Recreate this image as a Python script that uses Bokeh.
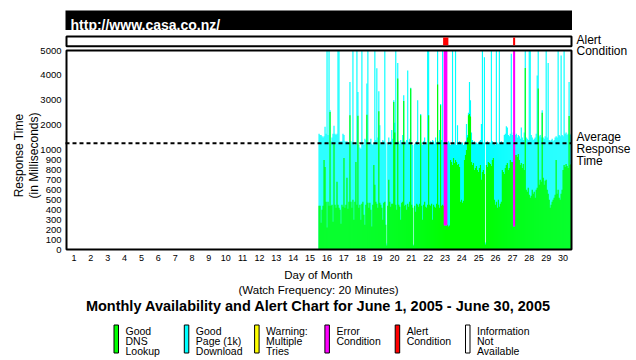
import math
from bokeh.plotting import figure
from bokeh.models import Range1d
from bokeh.core.properties import value
from bokeh.embed import file_html
from bokeh.resources import INLINE

# ---------------- data ----------------
site_name = "http://www.casa.co.nz/"
chart_title = "Monthly Availability and Alert Chart for June 1, 2005 - June 30, 2005"
days = list(range(1, 31))
first_data_day = 16
last_data_day = 30

# total response time (ms) per time slot, day 16 .. day 30
total_ms = [
    1650, 1600, 1600, 1550, 1500, 1550, 1930, 1650, 5000, 1600,
    5000, 2600, 1350, 1500, 1650, 1970, 1650, 1600, 1650, 5000,
    5000, 1350, 1330, 1350, 1650, 1600, 1350, 1330, 1350, 1300,
    1300, 3730, 1350, 1300, 5000, 1250, 1200, 1300, 5000, 3330,
    1200, 1100, 1050, 5000, 1300, 1200, 1450, 1400, 3670, 5000,
    1300, 1250, 1450, 1250, 1200, 1300, 5000, 1400, 4290, 1500,
    3360, 2000, 1300, 1250, 1400, 1350, 5000, 1300, 60, 1250,
    1500, 1200, 1350, 1800, 1450, 3000, 2100, 5000, 1300, 4500,
    1350, 1250, 1400, 1300, 1600, 3200, 1350, 1250, 1400, 4200,
    1300, 1450, 3500, 1300, 1200, 50, 1250, 1300, 1350, 3000,
    1200, 1250, 2450, 1300, 1200, 1350, 1500, 1300, 1250, 5000,
    5000, 1300, 1350, 1300, 1400, 1350, 1250, 1500, 1300, 5000,
    1350, 1800, 2850, 1400, 5000, 1300, 1300, 1300, 1300, 1250,
    1350, 1300, 1200, 1250, 5000, 1300, 1250, 5000, 1200, 2000,
    1300, 1350, 1300, 1250, 1300, 1200, 1250, 1350, 2050, 1600,
    2500, 3730, 3000, 1700, 1400, 1300, 1350, 1250, 1300, 1250,
    1300, 1350, 1400, 2050, 5000, 1300, 4730, 70, 1300, 1350,
    1250, 1300, 1300, 5000, 1350, 1300, 1250, 1200, 5000, 1300,
    1250, 5000, 1300, 1350, 1250, 1300, 1600, 1650, 1950, 1900,
    1600, 1550, 1650, 4870, 1600, 1700, 1700, 1600, 1650, 1500,
    1600, 1550, 1450, 1900, 1500, 1400, 1700, 5000, 1500, 1450,
    1400, 5000, 5000, 1600, 1500, 1400, 1450, 1500, 1650, 4000,
    5000, 1550, 1600, 1500, 2600, 1500, 1450, 1550, 5000, 1500,
    4500, 1400, 1350, 1400, 1450, 1350, 1400, 1500, 1550, 1500,
    5000, 1600, 1550, 4800, 1600, 1550, 5000, 1650, 1700, 1600,
    1650, 3730, 1600, 1650,
]
# DNS lookup time (ms) per time slot
dns_ms = [
    440, 440, 270, 400, 440, 900, 830, 480, 220, 480,
    440, 2530, 440, 450, 280, 1270, 450, 420, 680, 450,
    420, 400, 260, 450, 430, 920, 420, 450, 720, 410,
    480, 2400, 480, 420, 500, 300, 480, 880, 450, 2380,
    420, 450, 300, 460, 480, 350, 250, 450, 2420, 470,
    420, 470, 400, 230, 450, 850, 650, 480, 460, 420,
    2560, 470, 450, 420, 300, 470, 480, 250, 40, 440,
    700, 480, 430, 460, 460, 2930, 1700, 450, 400, 3870,
    450, 430, 300, 470, 480, 2970, 440, 450, 400, 460,
    430, 480, 3470, 450, 420, 40, 440, 380, 460, 450,
    430, 460, 2400, 440, 300, 450, 480, 430, 420, 450,
    2400, 450, 440, 460, 300, 450, 430, 420, 460, 3630,
    450, 420, 2800, 440, 450, 440, 240, 240, 240, 250,
    230, 240, 900, 880, 850, 920, 870, 900, 880, 850,
    860, 830, 480, 500, 470, 490, 900, 950, 1000, 1500,
    2400, 2450, 2350, 880, 850, 870, 800, 820, 840, 800,
    780, 820, 850, 700, 780, 800, 760, 50, 850, 830,
    880, 870, 860, 840, 900, 920, 500, 450, 480, 420,
    500, 430, 460, 480, 800, 780, 760, 820, 850, 870,
    800, 820, 900, 880, 880, 230, 230, 950, 950, 930,
    960, 900, 850, 870, 820, 860, 800, 4300, 600, 580,
    620, 550, 520, 540, 600, 560, 580, 520, 600, 620,
    3470, 650, 700, 680, 2500, 720, 650, 690, 700, 600,
    560, 500, 420, 450, 480, 500, 520, 550, 900, 560,
    600, 520, 500, 560, 600, 800, 850, 830, 860, 840,
    820, 2370, 850, 860,
]

# error conditions (magenta) and alert conditions (red)
error_day = [23, 27]
error_start_hour = [10.1, 12.9]
error_end_hour = [15.4, 15.8]
error_floor_ms = [240, 230]
alert_day = [23, 27]
alert_start_hour = [9.3, 12.9]
alert_end_hour = [16.8, 15.8]

average_ms = 1270

y_tick_ms = [0, 100, 200, 300, 400, 500, 600, 700, 800, 900, 1000, 2000, 3000, 4000, 5000]

legend_colors = ["#00FF00", "#00FFFF", "#FFFF00", "#FF00FF", "#FF0000", "#FFFFFF"]
legend_lines = [
    ["Good", "DNS", "Lookup"],
    ["Good", "Page (1k)", "Download"],
    ["Warning:", "Multiple", "Tries"],
    ["Error", "Condition", ""],
    ["Alert", "Condition", ""],
    ["Information", "Not", "Available"],
]

# ---------------- layout ----------------
FONT = "Liberation Sans"
W, H = 636, 360
PX_L, PX_R, PX_T, PX_B = 0, 636, 0, 360        # canvas in page pixels
BOX_L, BOX_R = 66, 571                          # plot box
BOX_T, BOX_B = 50, 249
DAY_L_PX, DAY_R_PX = 65, 571                    # day 0.5 .. 30.5

def to_axis(v):
    # piecewise scale: 0-1000 ms linear, 1000-5000 ms compressed 4x
    return v if v <= 1000 else 1000 + (v - 1000) / 4.0

ky = (BOX_B - BOX_T) / to_axis(5000)
kx = (DAY_R_PX - DAY_L_PX) / 30.0
x_range = Range1d(0.5 - (DAY_L_PX - PX_L) / kx, 30.5 + (PX_R - DAY_R_PX) / kx)
y_range = Range1d(-(PX_B - BOX_B) / ky, (BOX_B - PX_T) / ky)

p = figure(width=W, height=H, x_range=x_range, y_range=y_range,
           output_backend="svg", toolbar_location=None,
           x_axis_location=None, y_axis_location=None,
           min_border=0, min_border_left=0, min_border_right=0,
           min_border_top=0, min_border_bottom=0,
           outline_line_color=None, background_fill_color="white",
           border_fill_color="white")
p.extra_x_ranges = {"px": Range1d(PX_L, PX_R)}
p.extra_y_ranges = {"px": Range1d(PX_B, PX_T)}
p.grid.visible = False
PX = dict(x_range_name="px", y_range_name="px")

# title bar
p.quad(left=[65], right=[571.5], top=[10], bottom=[29.5], fill_color="black",
       line_color=None, **PX)
p.text(x=[70], y=[24.5], text=[site_name], text_color="white",
       text_font=value(FONT), text_font_style="bold", text_font_size="14px",
       text_align="left", text_baseline="alphabetic", **PX)

# alert box
p.quad(left=[BOX_L], right=[BOX_R], top=[36], bottom=[45.7], fill_color="white",
       line_color="black", line_width=2, **PX)
a_left = [DAY_L_PX + (d - 1 + h / 24.0) * kx for d, h in zip(alert_day, alert_start_hour)]
a_right = [DAY_L_PX + (d - 1 + h / 24.0) * kx for d, h in zip(alert_day, alert_end_hour)]
p.quad(left=a_left, right=a_right, top=[37] * len(a_left), bottom=[44.7] * len(a_left),
       fill_color="#FF0000", line_color=None, **PX)

# bars
n = len(total_ms)
w = (last_data_day - first_data_day + 1) / n
lefts = [first_data_day - 0.5 + i * w for i in range(n)]
rights = [l + w * 1.15 for l in lefts]
p.quad(left=lefts, right=rights, bottom=[0] * n, top=[to_axis(v) for v in total_ms],
       fill_color="#00FFFF", line_color=None)
p.quad(left=lefts, right=rights, bottom=[0] * n, top=[to_axis(v) for v in dns_ms],
       fill_color="#00FF00", line_color=None)

# error condition bars
e_left = [d - 0.5 + h / 24.0 for d, h in zip(error_day, error_start_hour)]
e_right = [d - 0.5 + h / 24.0 for d, h in zip(error_day, error_end_hour)]
p.quad(left=e_left, right=e_right, bottom=[to_axis(v) for v in error_floor_ms],
       top=[to_axis(5000)] * len(e_left), fill_color="#FF00FF", line_color=None)

# average line
p.segment(x0=[0.5], x1=[30.5], y0=[to_axis(average_ms)], y1=[to_axis(average_ms)],
          line_color="black", line_width=2, line_dash="4 3")

# plot box
p.quad(left=[BOX_L], right=[BOX_R], top=[BOX_T], bottom=[BOX_B], fill_color=None,
       line_color="black", line_width=2, **PX)

# y tick labels
p.text(x=[61] * len(y_tick_ms), y=[to_axis(v) for v in y_tick_ms],
       text=[str(v) for v in y_tick_ms], text_font=value(FONT), text_font_size="9.5px",
       text_align="right", text_baseline="middle", text_color="black",
       x_range_name="px")

# x tick labels
p.text(x=days, y=[257.5] * len(days), text=[str(d) for d in days],
       text_font=value(FONT), text_font_size="9px", text_align="center",
       text_baseline="middle", text_color="black", y_range_name="px")

# y axis title
p.text(x=[18, 33], y=[155, 155], text=["Response Time", "(in Milliseconds)"],
       angle=math.pi / 2, text_font=value(FONT), text_font_size="12px",
       text_align="center", text_baseline="middle", text_color="black", **PX)

# right side labels
p.text(x=[576] * 5, y=[39.5, 50, 136, 148, 160],
       text=["Alert", "Condition", "Average", "Response", "Time"],
       text_font=value(FONT), text_font_size="12px", text_align="left",
       text_baseline="alphabetic", text_color="black", **PX)

# bottom texts
p.text(x=[318, 318], y=[274, 289.5], text=["Day of Month", "(Watch Frequency: 20 Minutes)"],
       text_font=value(FONT), text_font_size="11.5px", text_align="center",
       text_baseline="middle", text_color="black", **PX)
p.text(x=[318], y=[305], text=[chart_title], text_font=value(FONT),
       text_font_style="bold", text_font_size="14.5px", text_align="center",
       text_baseline="middle", text_color="black", **PX)

# legend
leg_x0 = 113.5
leg_dx = 70.3
lx = [leg_x0 + i * leg_dx for i in range(len(legend_colors))]
p.quad(left=lx, right=[v + 4.5 for v in lx], top=[324.5] * len(lx), bottom=[352.5] * len(lx),
       fill_color=legend_colors, line_color="black", line_width=1, **PX)
tx, ty, tt = [], [], []
for i, lines in enumerate(legend_lines):
    for j, s in enumerate(lines):
        if s:
            tx.append(lx[i] + 11.5)
            ty.append(330.5 + 10 * j)
            tt.append(s)
p.text(x=tx, y=ty, text=tt, text_font=value(FONT), text_font_size="10.5px",
       text_align="left", text_baseline="alphabetic", text_color="black", **PX)

open("out.html", "w").write(file_html(p, INLINE))
